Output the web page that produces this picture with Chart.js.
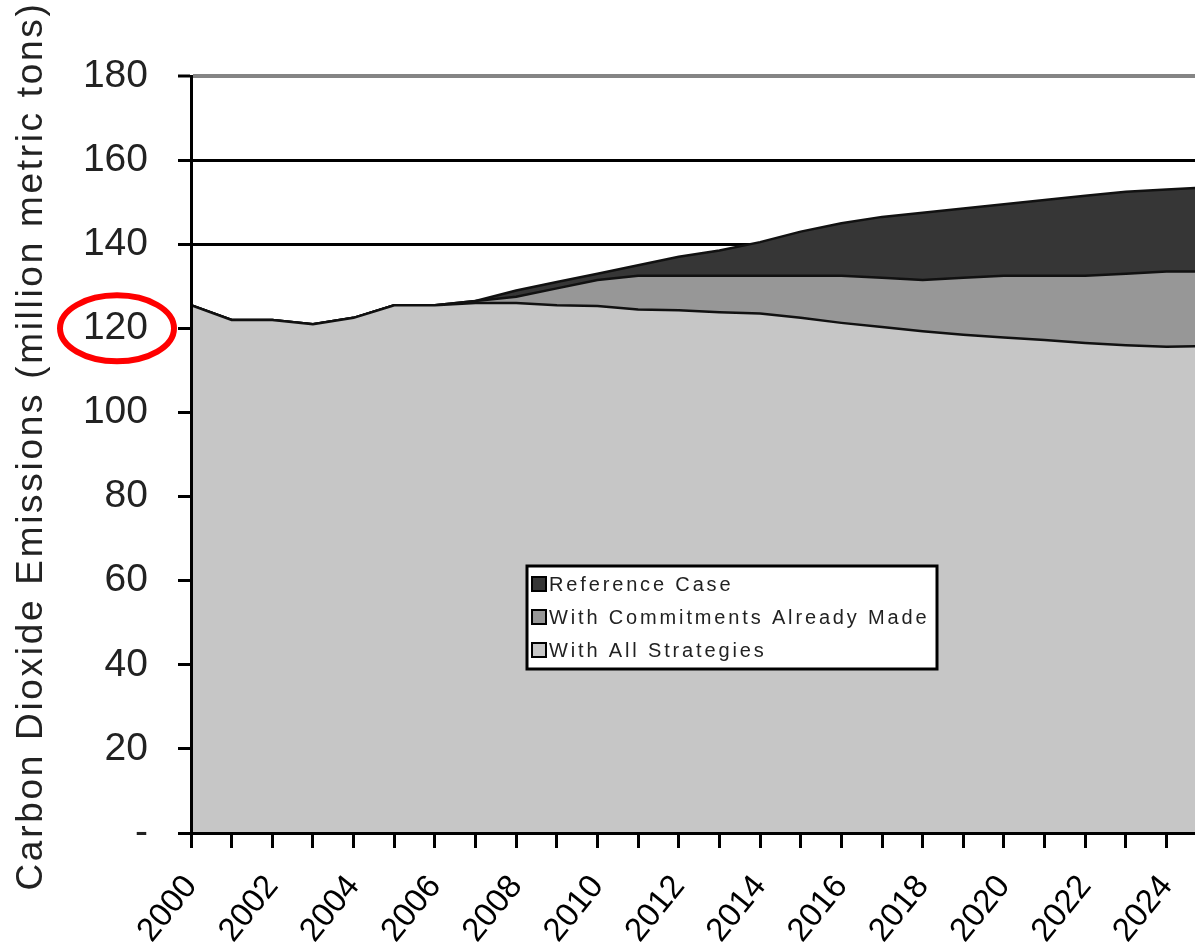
<!DOCTYPE html>
<html>
<head>
<meta charset="utf-8">
<script src="https://cdn.jsdelivr.net/npm/chart.js@4"></script>
<style>
  html, body { margin: 0; padding: 0; background: #fff; }
  #wrap { width: 1195px; height: 950px; }
</style>
</head>
<body>
<div id="wrap"><canvas id="chart" width="1195" height="950"></canvas></div>
<script>
const years = [2000, 2001, 2002, 2003, 2004, 2005, 2006, 2007, 2008, 2009, 2010, 2011, 2012,
  2013, 2014, 2015, 2016, 2017, 2018, 2019, 2020, 2021, 2022, 2023, 2024, 2025];
const referenceCase = [125.5, 122, 122, 121, 122.5, 125.5, 125.5, 126.5, 129, 131, 133, 135, 137,
  138.5, 140.5, 143, 145, 146.5, 147.5, 148.5, 149.5, 150.5, 151.5, 152.5, 153, 153.5];
const withCommitments = [125.5, 122, 122, 121, 122.5, 125.5, 125.5, 126.5, 127.5, 129.5, 131.5, 132.5, 132.5,
  132.5, 132.5, 132.5, 132.5, 132, 131.5, 132, 132.5, 132.5, 132.5, 133, 133.5, 133.5];
const withAllStrategies = [125.5, 122, 122, 121, 122.5, 125.5, 125.5, 126, 126, 125.5, 125.3, 124.5, 124.3,
  123.8, 123.5, 122.5, 121.3, 120.3, 119.3, 118.5, 117.8, 117.2, 116.5, 116, 115.6, 115.8];
const tickYears = [2000, 2001, 2002, 2003, 2004, 2005, 2006, 2007, 2008, 2009, 2010, 2011, 2012,
  2013, 2014, 2015, 2016, 2017, 2018, 2019, 2020, 2021, 2022, 2023, 2024];
const labelYears = [2000, 2002, 2004, 2006, 2008, 2010, 2012, 2014, 2016, 2018, 2020, 2022, 2024];
const yTicks = [0, 20, 40, 60, 80, 100, 120, 140, 160, 180];
const yTitle = "Carbon Dioxide Emissions (million metric tons)";
const legendItems = ["Reference Case", "With Commitments Already Made", "With All Strategies"];
const legendColors = ["#363636", "#979797", "#c6c6c6"];

const FONT = "'Liberation Sans', Arial, sans-serif";
const toPoints = (vals) => vals.map((v, i) => ({ x: years[i], y: v }));

// legend box drawn inside the plot, like the excel one
const legendBox = {
  id: "legendBox",
  afterDraw(chart) {
    const { ctx, chartArea } = chart;
    const x = chartArea.left + 336, y = chartArea.top + 490, w = 410, h = 103;
    ctx.save();
    ctx.fillStyle = "#fff";
    ctx.fillRect(x, y, w, h);
    ctx.strokeStyle = "#000";
    ctx.lineWidth = 3;
    ctx.strokeRect(x, y, w, h);
    ctx.font = "20px " + FONT;
    ctx.letterSpacing = "2.85px";
    ctx.textBaseline = "middle";
    legendItems.forEach((label, i) => {
      const cy = y + 18 + i * 33;
      ctx.fillStyle = legendColors[i];
      ctx.fillRect(x + 5, cy - 7, 14, 14);
      ctx.lineWidth = 2;
      ctx.strokeStyle = "#000";
      ctx.strokeRect(x + 5, cy - 7, 14, 14);
      ctx.fillStyle = "#222";
      ctx.fillText(label, x + 22, cy + 1);
    });
    ctx.restore();
  },
};

// stretched vertical axis title (the original is wider spaced than chart.js can do)
const yTitlePlugin = {
  id: "yTitlePlugin",
  afterDraw(chart) {
    const { ctx } = chart;
    ctx.save();
    ctx.translate(32, 446);
    ctx.rotate(-Math.PI / 2);
    ctx.font = "37px " + FONT;
    ctx.letterSpacing = "2.7px";
    ctx.fillStyle = "#222";
    ctx.textAlign = "center";
    ctx.textBaseline = "middle";
    ctx.fillText(yTitle, 0, 0);
    ctx.restore();
  },
};

// red circle round the 120 label
const circle120 = {
  id: "circle120",
  afterDraw(chart) {
    const { ctx } = chart;
    const ys = chart.scales.y;
    const cy = ys.getPixelForValue(120);
    const cx = ys.right - 74;
    ctx.save();
    ctx.strokeStyle = "#ff0000";
    ctx.lineWidth = 6;
    ctx.beginPath();
    ctx.ellipse(cx, cy, 57, 33, 0, 0, Math.PI * 2);
    ctx.stroke();
    ctx.restore();
  },
};

new Chart(document.getElementById("chart"), {
  type: "line",
  data: {
    datasets: [
      {
        label: "With All Strategies",
        data: toPoints(withAllStrategies),
        backgroundColor: "#c6c6c6",
        borderColor: "#111",
        borderWidth: 2.5,
        fill: "origin",
        pointRadius: 0,
        tension: 0,
      },
      {
        label: "With Commitments Already Made",
        data: toPoints(withCommitments),
        backgroundColor: "#979797",
        borderColor: "#111",
        borderWidth: 2.5,
        fill: "origin",
        pointRadius: 0,
        tension: 0,
      },
      {
        label: "Reference Case",
        data: toPoints(referenceCase),
        backgroundColor: "#363636",
        borderColor: "#111",
        borderWidth: 2.5,
        fill: "origin",
        pointRadius: 0,
        tension: 0,
      },
    ],
  },
  options: {
    responsive: false,
    animation: false,
    layout: { padding: { top: 76, left: 0, right: 0, bottom: 0 } },
    plugins: { legend: { display: false }, tooltip: { enabled: false } },
    scales: {
      x: {
        type: "linear",
        min: 2000,
        max: 2024.7,
        afterBuildTicks: (scale) => {
          scale.ticks = tickYears.map((v) => ({ value: v }));
        },
        afterFit: (scale) => {
          scale.height = 117;
          scale.paddingLeft = 0;
          scale.paddingRight = 0;
        },
        grid: { drawOnChartArea: false, drawTicks: true, tickLength: 15, tickWidth: 3, tickColor: "#000" },
        border: { display: true, color: "#000", width: 3, z: 1 },
        ticks: {
          autoSkip: false,
          minRotation: 51,
          maxRotation: 51,
          padding: 20,
          color: "#000",
          font: { family: FONT, size: 33 },
          callback: (v) => (labelYears.includes(v) ? String(v) : ""),
        },
      },
      y: {
        min: 0,
        max: 180,
        afterBuildTicks: (scale) => {
          scale.ticks = yTicks.map((v) => ({ value: v }));
        },
        afterFit: (scale) => {
          scale.width = 191;
        },
        grid: {
          color: (c) => (c.tick && c.tick.value === 180 ? "#858585" : "#000"),
          lineWidth: (c) => (c.tick && c.tick.value === 180 ? 4 : 3),
          tickLength: 13,
          tickColor: "#000",
          tickWidth: 3,
        },
        border: { display: true, color: "#000", width: 3, z: 1 },
        ticks: {
          padding: 30,
          color: "#222",
          font: { family: FONT, size: 39 },
          callback: (v) => (v === 0 ? "-" : v),
        },
      },
    },
  },
  plugins: [legendBox, yTitlePlugin, circle120],
});
</script>
</body>
</html>
